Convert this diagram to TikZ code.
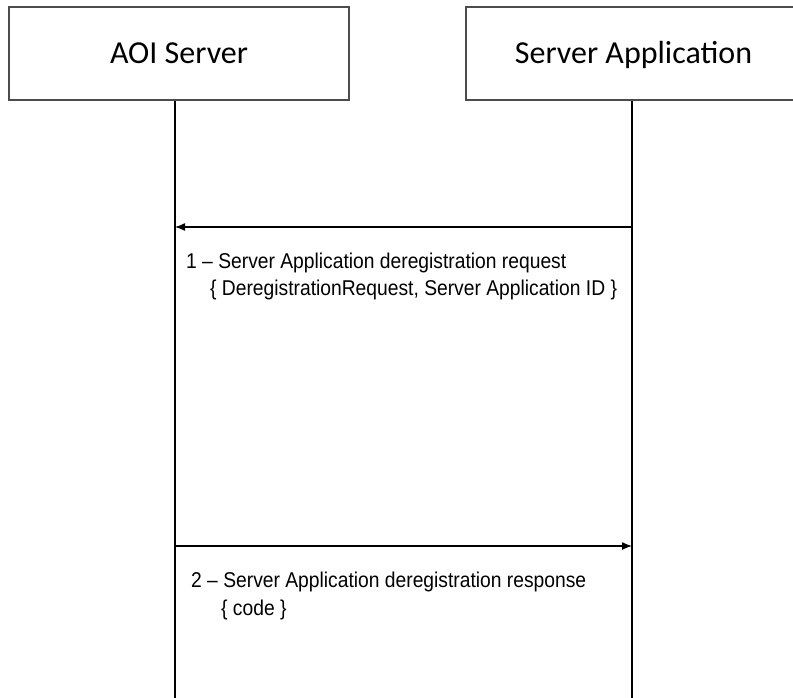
\documentclass[tikz,border=0pt]{standalone}
\usepackage{fontspec}
\setmainfont{Liberation Sans}
\newfontfamily\boxfont{Carlito}
\newfontfamily\msgfont[FakeStretch=0.9]{Liberation Sans}
\usetikzlibrary{arrows.meta}

\tikzset{
  entity/.style={draw=black!70, line width=1.5pt, minimum height=93pt,
    inner sep=0pt, text height=25pt, text depth=4pt,
    font=\boxfont\fontsize{32}{38}\selectfont},
  lifeline/.style={line width=1.3pt},
  msg/.style={line width=1.3pt, -{Latex[length=10pt,width=8pt]}},
  msgtext/.style={anchor=base west, inner sep=0pt,
    font=\msgfont\fontsize{21.4}{25}\selectfont},
}

\begin{document}
\begin{tikzpicture}[x=1pt,y=-1pt]
            \useasboundingbox (0,0) rectangle (793,698);
            \clip (0,0) rectangle (793,698);

            % Drawing entity AOI Server
            \node[entity, minimum width=340pt] (aoi) at (179,53.5) {AOI Server};

            % Drawing entity Server Application
            \node[entity, minimum width=335pt] (app) at (633.5,53.5) {Server Application};

            % Drawing lifelines
            \coordinate (aoiend) at (175,698);
            \coordinate (append) at (632,698);
            \draw[lifeline] (aoi.south -| aoiend) -- (aoiend);
            \draw[lifeline] (app.south -| append) -- (append);

            % Drawing message 1 app -> aoi
            \coordinate (req) at (632,227);
            \draw[msg] (req) -- (req -| aoiend);
            \node[msgtext] (reqa) at (186,268) {1 – Server Application deregistration request};
            \node[msgtext] (reqb) at (210,295) {\{ DeregistrationRequest, Server Application ID \}};

            % Drawing message 2 aoi -> app
            \coordinate (rsp) at (175,546);
            \draw[msg] (rsp) -- (rsp -| append);
            \node[msgtext] (rspa) at (191,587) {2 – Server Application deregistration response};
            \node[msgtext] (rspb) at (221,615) {\{ code \}};
\end{tikzpicture}
\end{document}
